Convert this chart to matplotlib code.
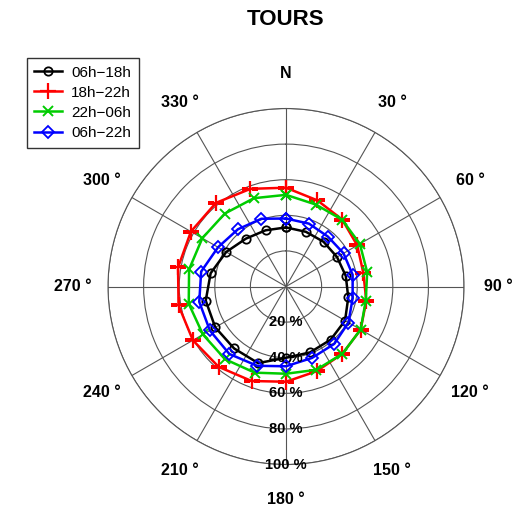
import numpy as np
import matplotlib
matplotlib.use("Agg")
import matplotlib.pyplot as plt

plt.rcParams['font.family'] = ['Liberation Sans', 'DejaVu Sans']

# directions (deg, clockwise from north) and frequencies (%)
angles = [0, 20, 40, 60, 80, 100, 120, 140, 160, 180, 200, 220, 240, 260, 280, 300, 320, 340]
p_06_18 = [33.2, 32.7, 32.8, 33.1, 34.1, 35.5, 38.3, 39.0, 39.4, 40.0, 45.8, 45.4, 45.9, 45.8, 43.0, 38.8, 35.1, 33.6]
p_18_22 = [55.5, 51.5, 49.1, 46.2, 44.1, 45.8, 48.4, 49.3, 50.6, 53.5, 56.5, 58.9, 60.4, 61.3, 61.6, 61.7, 61.3, 58.4]
p_22_06 = [51.5, 49.0, 49.0, 47.9, 46.3, 45.5, 48.4, 49.3, 49.8, 49.0, 51.5, 53.3, 53.9, 55.5, 55.3, 54.3, 53.5, 52.8]
p_06_22 = [38.2, 37.6, 36.6, 37.3, 38.0, 38.0, 40.5, 42.1, 42.7, 44.8, 47.4, 49.5, 49.4, 49.5, 48.4, 44.1, 42.0, 40.5]

labels = ["06h\u221218h", "18h\u221222h", "22h\u221206h", "06h\u221222h"]
theta_labels = ["N", "30 °", "60 °", "90 °", "120 °", "150 °", "180 °", "210 °", "240 °", "270 °", "300 °", "330 °"]
r_labels = ["20 %", "40 %", "60 %", "80 %", "100 %"]

fig = plt.figure(figsize=(5.16, 5.08), dpi=100)
ax = fig.add_axes([0.2093, 0.0856, 0.690, 0.7008], projection='polar')
ax.set_theta_zero_location('N')
ax.set_theta_direction(-1)
ax.set_ylim(0, 100)

grey = '#555555'
ax.set_xticks(np.radians(np.arange(0, 360, 30)))
ax.set_xticklabels([])
ax.set_yticks([20, 40, 60, 80, 100])
ax.set_yticklabels([])
ax.grid(True, color=grey, lw=0.8)
ax.spines['polar'].set_color(grey)
ax.spines['polar'].set_linewidth(0.8)

th = np.radians(angles + [angles[0]])
def closed(v):
    return v + [v[0]]

styles = [
    (p_06_18, 'black', dict(marker='o', ms=6, mfc='none', mew=1.3)),
    (p_18_22, 'red', dict(marker='+', ms=11, mew=1.6)),
    (p_22_06, '#00cc00', dict(marker='x', ms=7, mew=1.4)),
    (p_06_22, 'blue', dict(marker='D', ms=6, mfc='none', mew=1.3)),
]
handles = []
for (vals, col, mk), lab in zip(styles, labels):
    h, = ax.plot(th, closed(vals), color=col, lw=1.8, label=lab, **mk)
    handles.append(h)

# direction labels
for i, t in enumerate(theta_labels):
    ax.text(np.radians(i * 30), 119.5, t, ha='center', va='center',
            fontsize=11.5, fontweight='bold', clip_on=False)

# radial labels along 180 deg
for r, t in zip([20, 40, 60, 80, 100], r_labels):
    ax.text(np.pi, r, t, ha='center', va='center', fontsize=10.5, fontweight='bold')

fig.text(0.553, 0.961, "TOURS", ha='center', va='center', fontsize=16, fontweight='bold')

leg = fig.legend(handles=handles, loc='upper left', bbox_to_anchor=(0.052, 0.886),
                 borderaxespad=0, fancybox=False, edgecolor='black', fontsize=11,
                 handlelength=1.8, handletextpad=0.6, borderpad=0.5, labelspacing=0.4)
leg.get_frame().set_linewidth(1.0)

fig.savefig("out.png", dpi=100)
